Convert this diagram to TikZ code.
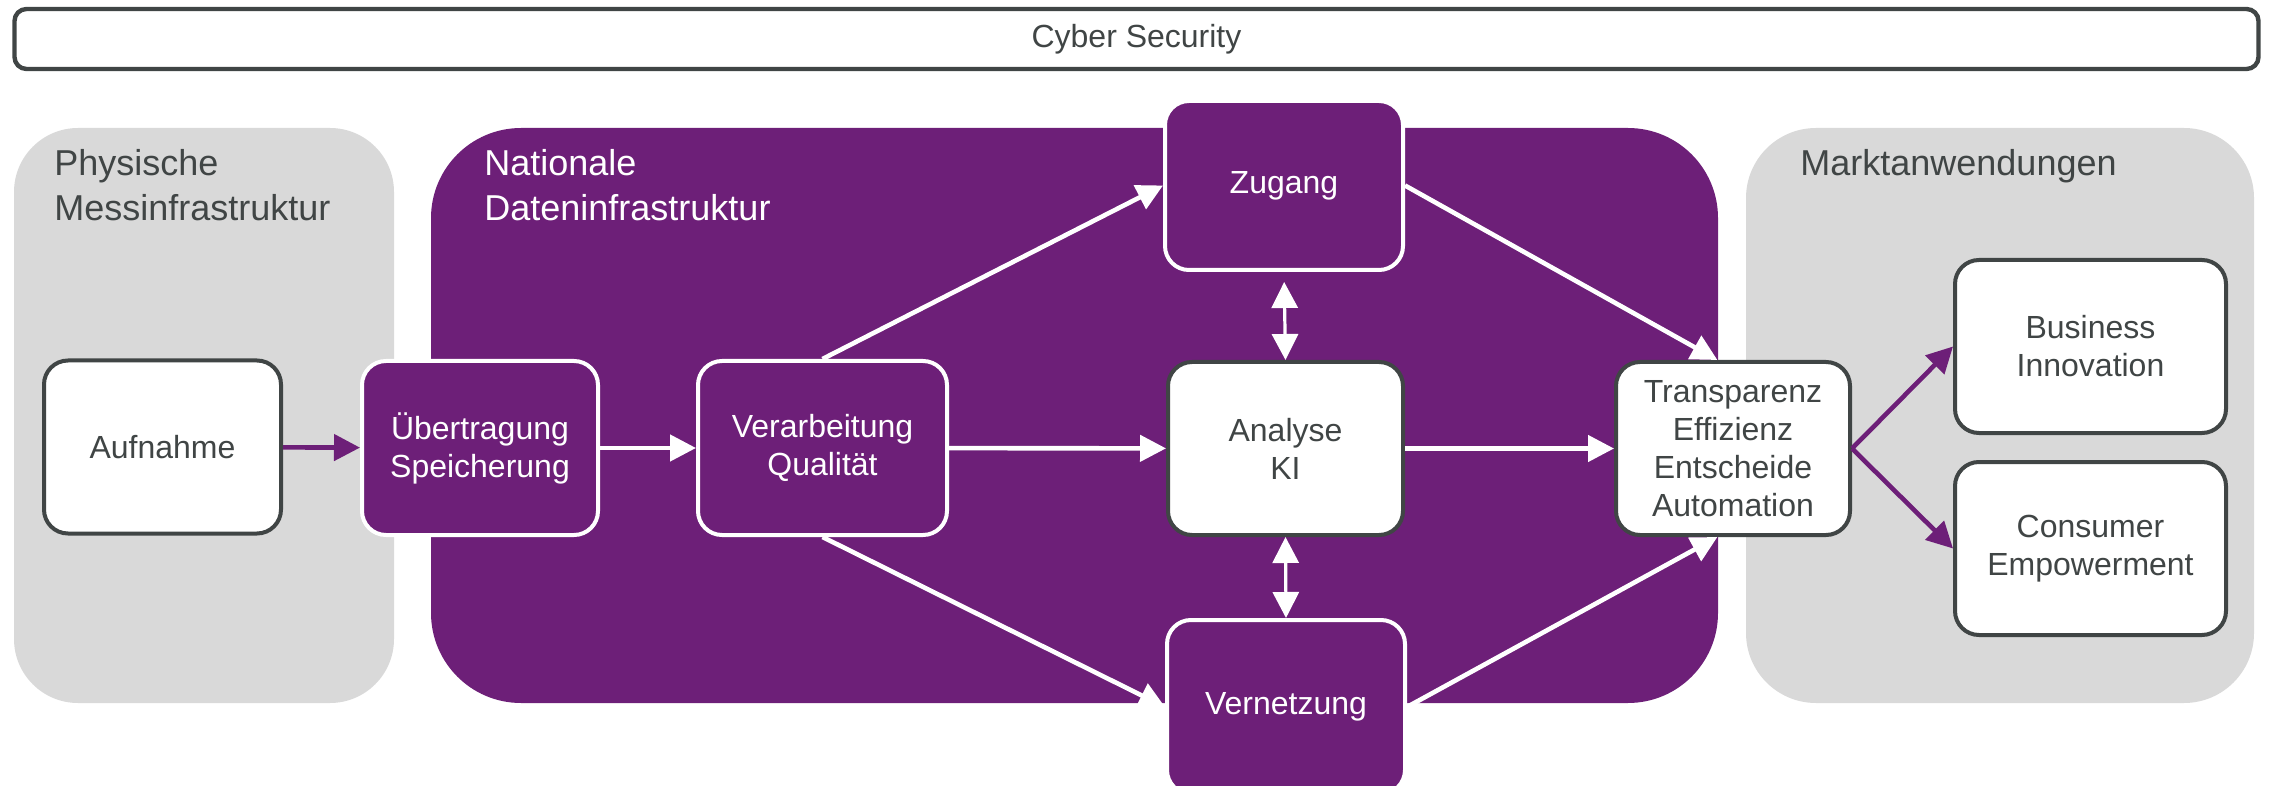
\documentclass[tikz,border=0pt]{standalone}
\usepackage{fontspec}
\setmainfont{Liberation Sans}
\usetikzlibrary{arrows.meta,positioning}
\definecolor{mypurple}{HTML}{6D1F78}
\definecolor{mygray}{HTML}{D9D9D9}
\definecolor{mydark}{HTML}{404545}

\begin{document}
\begin{tikzpicture}[x=0.5pt, y=-0.5pt]
\tikzset{
    mybox/.style={rectangle, rounded corners=12pt, line width=2pt, align=center, inner sep=2pt, font=\fontsize{16}{19}\selectfont},
    lightbox/.style={mybox, draw=mydark, fill=white, text=mydark},
    darkbox/.style={mybox, draw=white, fill=mypurple, text=white},
    mytitle/.style={anchor=north west, align=left, inner sep=0pt, font=\fontsize{18}{22.5}\selectfont},
    whitearrow/.style={draw=white, line width=2.3pt, -{Triangle[length=13pt, width=13pt]}},
    purplearrow/.style={draw=mypurple, line width=2.3pt, -{Triangle[length=13pt, width=13pt]}},
    bothways/.style={draw=white, line width=1.6pt, {Triangle[length=13pt, width=13pt]}-{Triangle[length=13pt, width=13pt]}}
}
\useasboundingbox (0,0) rectangle (2271,786);

% areas
\fill[mygray, rounded corners=32pt] (14,128) rectangle (394,703);
\fill[mypurple, rounded corners=45pt] (431,128) rectangle (1718,703);
\fill[mygray, rounded corners=35pt] (1746,128) rectangle (2254,703);
\node[mytitle, text=mydark] (physisch) at (54,149) {Physische\\Messinfrastruktur};
\node[mytitle, text=white] (national) at (484,149) {Nationale\\Dateninfrastruktur};
\node[mytitle, text=mydark] (markt) at (1800,149) {Marktanwendungen};

% top bar
\node[lightbox, rounded corners=6pt, line width=2.2pt, minimum width=1122pt, minimum height=30pt] (cyber) at (1136.5,39) {Cyber Security};

% boxes
\node[lightbox, minimum width=118.5pt, minimum height=86.5pt] (aufnahme) at (162.5,447) {Aufnahme};
\node[darkbox, minimum width=118pt, minimum height=87pt] (uebertragung) at (480,448) {Übertragung\\Speicherung};
\node[darkbox, minimum width=124.5pt, minimum height=87pt] (verarbeitung) at (822.5,448) {Verarbeitung\\Qualität};
\node[darkbox, minimum width=119pt, minimum height=84.5pt] (zugang) at (1284,185.5) {Zugang};
\node[lightbox, minimum width=117.5pt, minimum height=86.5pt] (analyse) at (1285.5,448.5) {Analyse\\KI};
\node[darkbox, minimum width=119pt, minimum height=87pt] (vernetzung) at (1286,707) {Vernetzung};
\node[lightbox, minimum width=117pt, minimum height=86.5pt] (transparenz) at (1733,448.5) {Transparenz\\Effizienz\\Entscheide\\Automation};
\node[lightbox, minimum width=135.5pt, minimum height=86.5pt] (business) at (2090.5,346.5) {Business\\Innovation};
\node[lightbox, minimum width=135.5pt, minimum height=86.5pt] (consumer) at (2090.5,548.5) {Consumer\\Empowerment};

% connectors
\draw[purplearrow] (aufnahme) -- (uebertragung);
\draw[whitearrow] (uebertragung) -- (verarbeitung);
\draw[whitearrow] (verarbeitung) -- (analyse);
\draw[whitearrow] (analyse) -- (transparenz);
\draw[whitearrow] (verarbeitung.north) -- (zugang.west);
\draw[whitearrow] (verarbeitung.south) -- (vernetzung.west);
\draw[whitearrow] (zugang.east) -- (transparenz.100);
\draw[whitearrow] (vernetzung.east) -- (transparenz.260);
\draw[bothways, shorten <=5pt] (zugang.south) -- (analyse.north);
\draw[bothways] (analyse.south) -- (vernetzung.north);
\draw[purplearrow] (transparenz.east) -- (business.west);
\draw[purplearrow] (transparenz.east) -- (consumer.west);

\end{tikzpicture}
\end{document}
